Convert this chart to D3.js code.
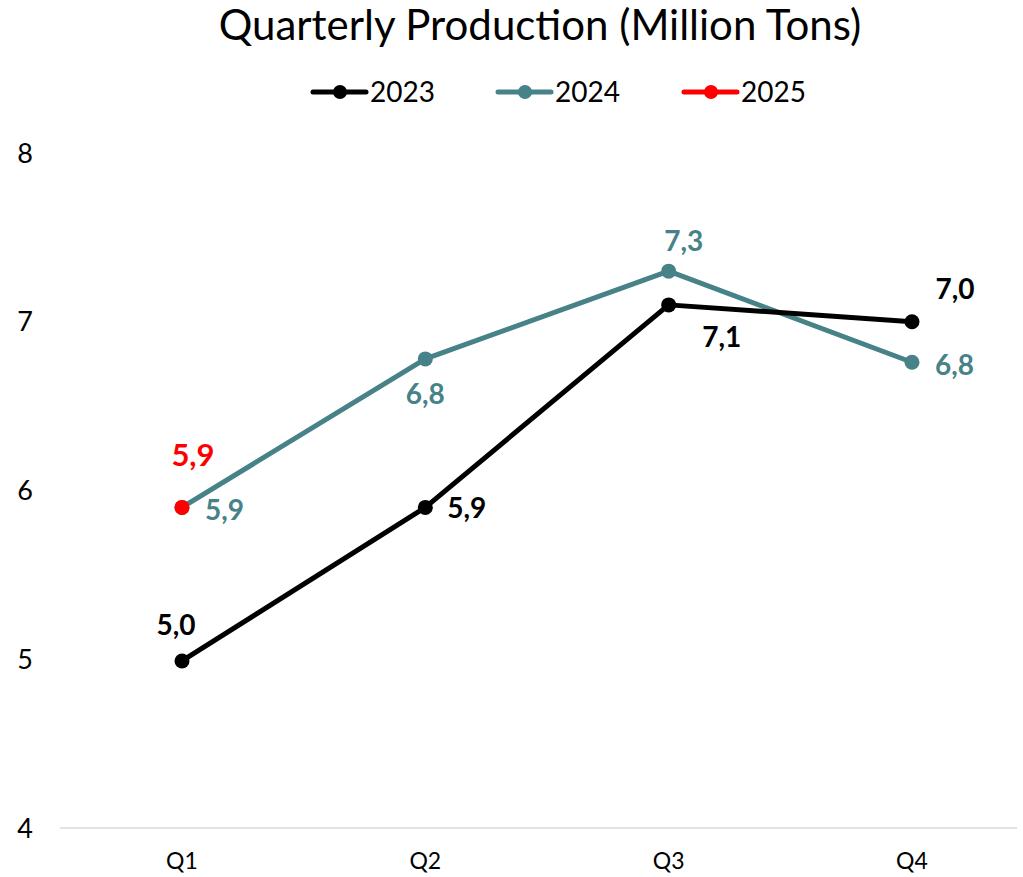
<!DOCTYPE html>
<html lang="en">
<head>
<meta charset="UTF-8">
<title>Quarterly Production</title>
<script src="https://d3js.org/d3.v7.min.js"></script>
<style>
  body { margin: 0; background: #fff; }
  * { font-family: "Lato", "Open Sans", sans-serif; }
</style>
</head>
<body>
<svg width="1023" height="877"></svg>
<script>
  // data
  const quarters = ["Q1", "Q2", "Q3", "Q4"];
  const values2023 = [4.99, 5.9, 7.1, 7.0];
  const values2024 = [5.9, 6.78, 7.3, 6.76];
  const values2025 = [5.9];
  const yTicks = [4, 5, 6, 7, 8];

  // label placement per point: [dx, dy, anchor]
  const labelPos = {
    "2023": [[-6, -36, "middle"], [22, 1, "start"], [53, 32, "middle"], [43, -33, "middle"]],
    "2024": [[23, 3, "start"], [0, 35, "middle"], [15, -30, "middle"], [23, 3, "start"]],
    "2025": [[11, -53, "middle"]]
  };

  const series = [
    { name: "2023", values: values2023, color: "#000000", size: 28 },
    { name: "2024", values: values2024, color: "#468288", size: 28 },
    { name: "2025", values: values2025, color: "#ff0000", size: 31 }
  ];

  const svg = d3.select("svg");

  const x = d3.scalePoint().domain(quarters).range([182, 912]);
  const y = d3.scaleLinear().domain([4, 8]).range([828, 153]);

  // title
  svg.append("text")
    .attr("x", 540).attr("y", 40)
    .attr("text-anchor", "middle")
    .attr("font-size", "42px")
    .text("Quarterly Production (Million Tons)");

  // y axis labels (no line)
  svg.selectAll(".ytick").data(yTicks).enter().append("text")
    .attr("x", 25).attr("y", d => y(d))
    .attr("dy", "0.36em")
    .attr("text-anchor", "middle")
    .attr("font-size", "27px")
    .text(d => d);

  // x axis line
  svg.append("line")
    .attr("x1", 60).attr("x2", 1017)
    .attr("y1", y(4)).attr("y2", y(4))
    .attr("stroke", "#d9d9d9").attr("stroke-width", 1.5);

  svg.selectAll(".xtick").data(quarters).enter().append("text")
    .attr("x", d => x(d)).attr("y", 869)
    .attr("text-anchor", "middle")
    .attr("font-size", "23px")
    .text(d => d);

  const line = d3.line()
    .x((d, i) => x(quarters[i]))
    .y(d => y(d));

  const fmt = v => d3.format(".1f")(v).replace(".", ",");

  // draw 2024 first, then 2023, then 2025 on top
  [series[1], series[0], series[2]].forEach(s => {
    svg.append("path")
      .datum(s.values)
      .attr("d", line)
      .attr("fill", "none")
      .attr("stroke", s.color)
      .attr("stroke-width", 5)
      .attr("stroke-linejoin", "round");

    svg.selectAll(null).data(s.values).enter().append("circle")
      .attr("cx", (d, i) => x(quarters[i]))
      .attr("cy", d => y(d))
      .attr("r", 7.5)
      .attr("fill", s.color);
  });

  series.forEach(s => {
    const pos = labelPos[s.name];
    svg.selectAll(null).data(s.values).enter().append("text")
      .attr("x", (d, i) => x(quarters[i]) + pos[i][0])
      .attr("y", (d, i) => y(d) + pos[i][1])
      .attr("dy", "0.36em")
      .attr("text-anchor", (d, i) => pos[i][2])
      .attr("font-size", s.size + "px")
      .attr("font-weight", "bold")
      .attr("fill", s.color)
      .text(d => fmt(d));
  });

  // legend
  const legendX = [313, 498, 684];
  const legend = svg.selectAll(".legend").data(series).enter().append("g")
    .attr("transform", (d, i) => `translate(${legendX[i]},92)`);
  legend.append("line")
    .attr("x1", 0).attr("x2", 53)
    .attr("stroke", d => d.color).attr("stroke-width", 5)
    .attr("stroke-linecap", "round");
  legend.append("circle")
    .attr("cx", 27).attr("r", 7)
    .attr("fill", d => d.color);
  legend.append("text")
    .attr("x", 57).attr("dy", "0.36em")
    .attr("font-size", "28px")
    .text(d => d.name);
</script>
</body>
</html>
